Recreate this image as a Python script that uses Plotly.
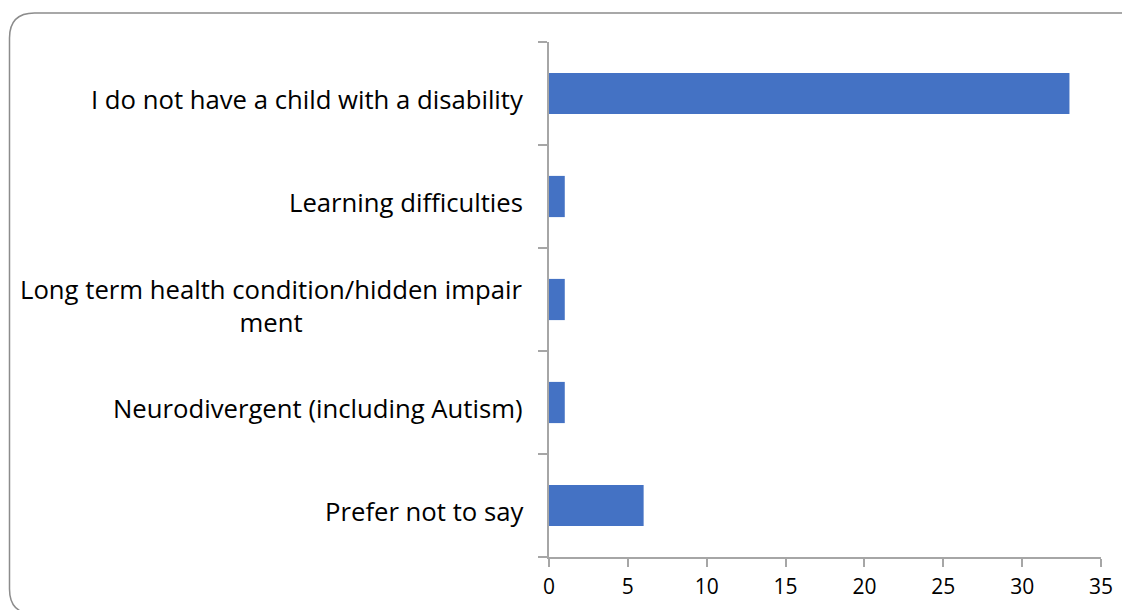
import plotly.graph_objects as go

categories = [
    "I do not have a child with a disability",
    "Learning difficulties",
    "Long term health condition/hidden impair<br>ment",
    "Neurodivergent (including Autism)",
    "Prefer not to say",
]
values = [33, 1, 1, 1, 6]
x_ticks = [0, 5, 10, 15, 20, 25, 30, 35]

W, H = 1130, 610
OFF = 8  # page body margin
PL, PR, PT, PB = 549, 1101, 42, 557  # plot area in reference pixels
pw, ph = PR - PL, PB - PT
L, T = PL - OFF, PT - OFF
R, B = W - L - pw, H - T - ph

def px(x):
    return (x - PL) / pw

def py(y):
    return (PB - y) / ph

FONT = "Open Sans"
fig = go.Figure(go.Bar(
    x=values, y=categories, orientation="h",
    marker=dict(color="#4472C4", line=dict(width=0)),
    width=0.4, hoverinfo="x+y",
))

annotations = []
for c in categories:
    annotations.append(dict(
        x=px(525), xref="paper", y=c, yref="y", text=c, showarrow=False,
        xanchor="right", yanchor="middle", align="center", yshift=-6,
        font=dict(family=FONT, size=25.7, color="#000000"),
    ))

# rounded chart border (Excel chart area)
x0, y0, x1, y1, r = 9.5, 13, 1145, 614, 25
path = (f"M {px(x0 + r)},{py(y1)} Q {px(x0)},{py(y1)} {px(x0)},{py(y1 - r)} "
        f"L {px(x0)},{py(y0 + r)} "
        f"Q {px(x0)},{py(y0)} {px(x0 + r)},{py(y0)} "
        f"L {px(x1 - r)},{py(y0)} Q {px(x1)},{py(y0)} {px(x1)},{py(y0 + r)} "
        f"L {px(x1)},{py(y1)}")

fig.update_layout(
    width=W, height=H,
    margin=dict(l=L, r=R, t=T, b=B, pad=0),
    paper_bgcolor="white", plot_bgcolor="white",
    showlegend=False,
    annotations=annotations,
    shapes=[dict(type="path", path=path, xref="paper", yref="paper",
                 line=dict(color="#8c8c8c", width=1.5), layer="below")],
    xaxis=dict(
        range=[0, 35], tickvals=x_ticks, showgrid=False, zeroline=False,
        showline=True, linecolor="#a6a6a6", linewidth=1.5,
        ticks="outside", ticklen=8, tickcolor="#a6a6a6", tickwidth=1.5,
        tickfont=dict(family=FONT, size=21, color="#000000"),
        ticklabelstandoff=2,
        fixedrange=True,
    ),
    yaxis=dict(
        categoryorder="array", categoryarray=categories[::-1],
        tickson="boundaries", showticklabels=False, showgrid=False,
        showline=True, linecolor="#a6a6a6", linewidth=1.5,
        ticks="outside", ticklen=9, tickcolor="#a6a6a6", tickwidth=1.5,
        fixedrange=True,
    ),
)

fig.write_html("out.html")
